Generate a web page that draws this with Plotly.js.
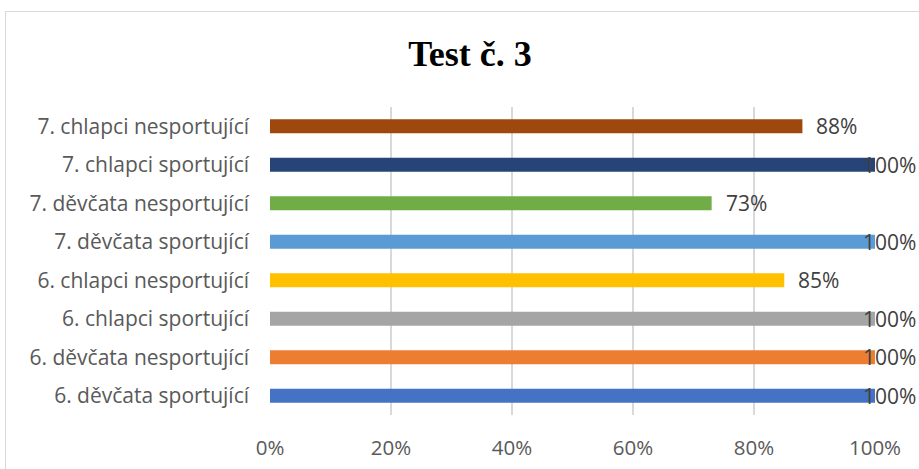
<!DOCTYPE html>
<html>
<head>
<meta charset="utf-8">
<script src="https://cdn.plot.ly/plotly-3.0.1.min.js"></script>
<style>
html,body{margin:0;padding:0;background:#fff;overflow:hidden;}
#frame{position:absolute;left:5px;top:11px;width:1000px;height:1000px;border:1px solid #d9d9d9;box-sizing:border-box;}
#chart{position:absolute;left:0;top:0;width:919px;height:469px;}
</style>
</head>
<body>
<div id="frame"></div>
<div id="chart"></div>
<script>
var categories = [
  "6. děvčata sportující",
  "6. děvčata nesportující",
  "6. chlapci sportující",
  "6. chlapci nesportující",
  "7. děvčata sportující",
  "7. děvčata nesportující",
  "7. chlapci sportující",
  "7. chlapci nesportující"
];
var values = [1.00, 1.00, 1.00, 0.85, 1.00, 0.73, 1.00, 0.88];
var colors = ["#4472C4", "#ED7D31", "#A5A5A5", "#FFC000", "#5B9BD5", "#70AD47", "#264478", "#9E480E"];
var tickVals = [0, 0.2, 0.4, 0.6, 0.8, 1.0];
var tickText = ["0%", "20%", "40%", "60%", "80%", "100%"];

var font = "'Open Sans', Lato, sans-serif";
var trace = {
  type: "bar",
  orientation: "h",
  y: categories,
  x: values,
  marker: {color: colors},
  hoverinfo: "none"
};

var annotations = values.map(function(v, i){
  return {
    x: v, y: categories[i], xref: "x", yref: "y",
    text: Math.round(v*100) + "%",
    showarrow: false,
    xanchor: "left",
    xshift: v >= 1 ? -14 : 12,
    font: {family: font, size: 21, color: "#404040"}
  };
});

var layout = {
  width: 919, height: 469,
  margin: {l: 270, r: 44, t: 107, b: 54},
  paper_bgcolor: "rgba(0,0,0,0)",
  plot_bgcolor: "rgba(0,0,0,0)",
  bargap: 0.635,
  showlegend: false,
  title: {
    text: "<b>Test č. 3</b>",
    font: {family: "'Liberation Serif', 'Times New Roman', serif", size: 36, color: "#000"},
    x: 470/919, xref: "container", xanchor: "center",
    y: 1 - 53/469, yref: "container", yanchor: "middle"
  },
  xaxis: {
    range: [0, 1],
    tickvals: tickVals, ticktext: tickText,
    showgrid: true, gridcolor: "#d9d9d9", gridwidth: 1.5,
    zeroline: false, showline: false,
    ticks: "", ticklen: 0,
    ticklabelstandoff: 18,
    tickfont: {family: font, size: 20.5, color: "#595959"},
    fixedrange: true
  },
  yaxis: {
    type: "category",
    categoryorder: "array", categoryarray: categories,
    showgrid: false, zeroline: false,
    showline: false,
    ticks: "",
    ticklabelstandoff: 20,
    tickfont: {family: font, size: 21, color: "#595959"},
    fixedrange: true
  },
  annotations: annotations
};

Plotly.newPlot("chart", [trace], layout, {displayModeBar: false, staticPlot: true});
</script>
</body>
</html>
